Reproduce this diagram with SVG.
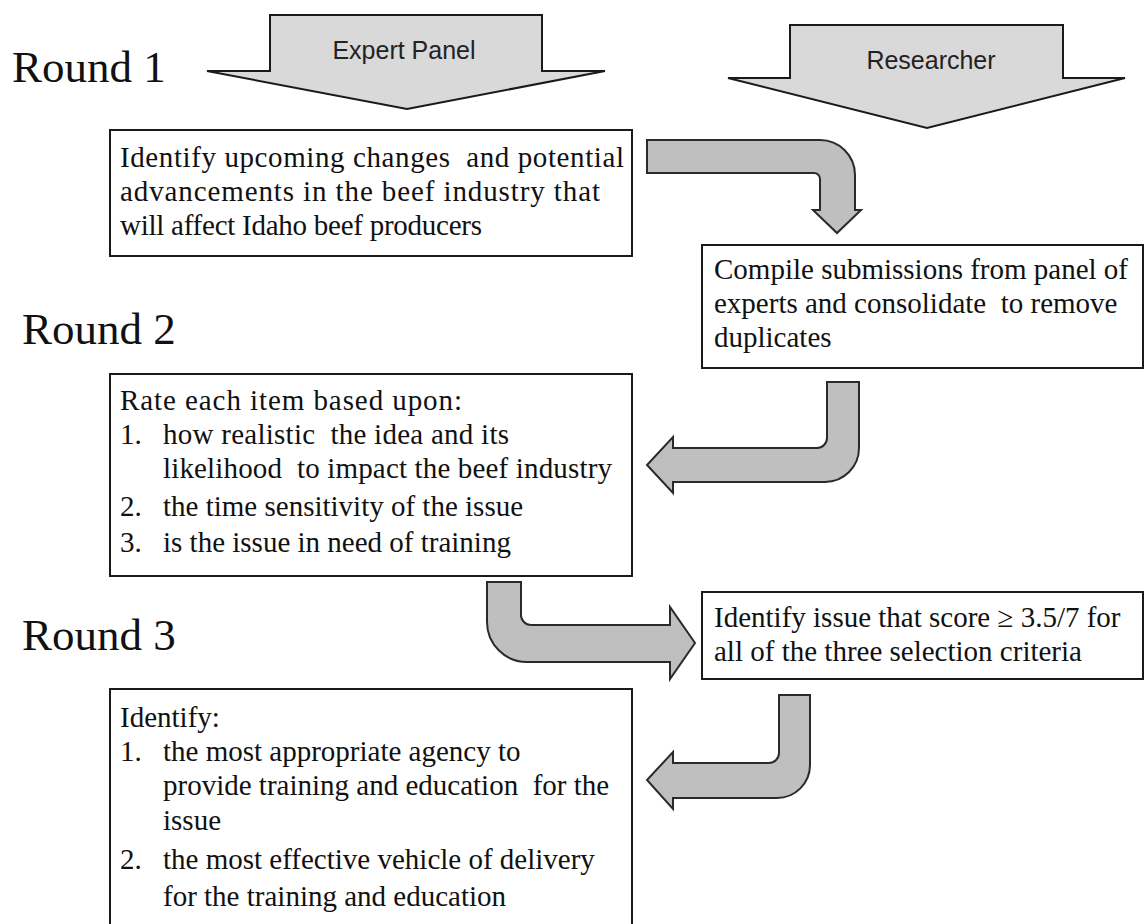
<svg xmlns="http://www.w3.org/2000/svg" width="1145" height="924" viewBox="0 0 1145 924">
<style>
.box{fill:#fff;stroke:#1a1a1a;stroke-width:2}
.hdr{fill:#d9d9d9;stroke:#1a1a1a;stroke-width:2;stroke-linejoin:miter}
.bent{fill:#bfbfbf;stroke:#2a2a2a;stroke-width:2;stroke-linejoin:miter}
.t{font-family:"Liberation Serif","Times New Roman",serif;font-size:29px;fill:#111;white-space:pre}
.round{font-family:"Liberation Serif","Times New Roman",serif;font-size:45px;fill:#111}
.h{font-family:"Liberation Sans",Arial,sans-serif;font-size:25px;fill:#222;text-anchor:middle}
</style>
<rect width="1145" height="924" fill="#fff"/>
<g id="labels">
<text class="round" x="12" y="82">Round 1</text>
<text class="round" x="22" y="344">Round 2</text>
<text class="round" x="22" y="650">Round 3</text>
</g>
<g id="expert-panel">
<path class="hdr" d="M270,15 L542,15 L542,71 L605,71 L407,109 L207,71 L270,71 Z"/>
<text class="h" x="404" y="59">Expert Panel</text>
</g>
<g id="researcher">
<path class="hdr" d="M790,25 L1063,25 L1063,78 L1125,78 L927,128 L728,78 L790,78 Z"/>
<text class="h" x="931" y="69">Researcher</text>
</g>
<g id="box1">
<rect class="box" x="110" y="130" width="522" height="126"/>
<text class="t" x="120" y="167" textLength="504" lengthAdjust="spacing">Identify upcoming changes&#160; and potential</text>
<text class="t" x="120" y="201" textLength="480" lengthAdjust="spacing">advancements in the beef industry that</text>
<text class="t" x="120" y="235" textLength="362" lengthAdjust="spacing">will affect Idaho beef producers</text>
</g>
<g id="box2">
<rect class="box" x="702" y="245" width="441" height="123"/>
<text class="t" x="714" y="279">Compile submissions from panel of</text>
<text class="t" x="714" y="313">experts and consolidate&#160; to remove</text>
<text class="t" x="714" y="347">duplicates</text>
</g>
<g id="box3">
<rect class="box" x="110" y="374" width="522" height="202"/>
<text class="t" x="120" y="410" textLength="342" lengthAdjust="spacing">Rate each item based upon:</text>
<text class="t" x="120" y="444">1.</text><text class="t" x="163" y="444" textLength="346" lengthAdjust="spacing">how realistic&#160; the idea and its</text>
<text class="t" x="163" y="478" textLength="449" lengthAdjust="spacing">likelihood&#160; to impact the beef industry</text>
<text class="t" x="120" y="516">2.</text><text class="t" x="163" y="516">the time sensitivity of the issue</text>
<text class="t" x="120" y="552">3.</text><text class="t" x="163" y="552">is the issue in need of training</text>
</g>
<g id="box4">
<rect class="box" x="702" y="592" width="441" height="87"/>
<text class="t" x="714" y="627">Identify issue that score ≥ 3.5/7 for</text>
<text class="t" x="714" y="661">all of the three selection criteria</text>
</g>
<g id="box5">
<rect class="box" x="110" y="689" width="522" height="245"/>
<text class="t" x="120" y="727">Identify:</text>
<text class="t" x="120" y="761">1.</text><text class="t" x="163" y="761">the most appropriate agency to</text>
<text class="t" x="163" y="795">provide training and education&#160; for the</text>
<text class="t" x="163" y="830">issue</text>
<text class="t" x="120" y="869">2.</text><text class="t" x="163" y="869">the most effective vehicle of delivery</text>
<text class="t" x="163" y="906">for the training and education</text>
</g>
<g id="connectors">
<path class="bent" d="M647,140 L820,140 A35,35 0 0 1 855,175 L855,210 L861,210 L837,233 L813,210 L820,210 L820,179 A6,6 0 0 0 814,173 L647,173 Z"/>
<path class="bent" d="M827,382 L859,382 L859,448 A34,34 0 0 1 825,482 L673,482 L673,493 L647,465 L673,437 L673,448 L817,448 A10,10 0 0 0 827,438 Z"/>
<path class="bent" d="M487,582 L521,582 L521,615 A10,10 0 0 0 531,625 L670,625 L670,607 L695,643 L670,679 L670,662 L527,662 A40,40 0 0 1 487,622 Z"/>
<path class="bent" d="M779,695 L810,695 L810,765 A33,33 0 0 1 777,798 L673,798 L673,809 L647,780 L673,752 L673,763 L769,763 A10,10 0 0 0 779,753 Z"/>
</g>
</svg>
